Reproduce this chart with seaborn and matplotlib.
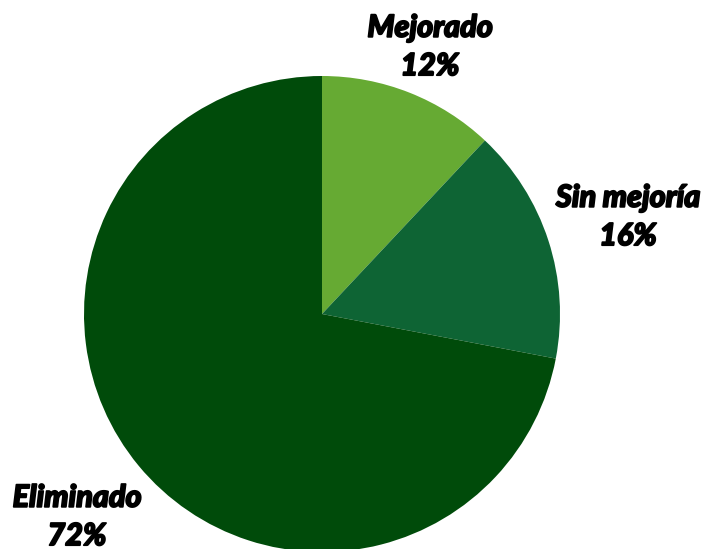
import matplotlib
matplotlib.use('Agg')
import matplotlib.pyplot as plt
import matplotlib.patheffects as pe
import seaborn as sns

sns.set_style('white')
plt.rcParams['font.family'] = ['Lato', 'DejaVu Sans']

# Datos
categorias = ['Mejorado', 'Sin mejoría', 'Eliminado']
porcentajes = [12, 16, 72]
colores = ['#66AA33', '#0E6434', '#004B0A']

fig = plt.figure(figsize=(7.07, 5.49), dpi=100)
ax = fig.add_axes([0, 0, 1, 1])

ax.pie(porcentajes, colors=colores, startangle=90, counterclock=False,
       center=(322, 235), radius=238, frame=True,
       wedgeprops={'linewidth': 0})

ax.set_xlim(0, 707)
ax.set_ylim(0, 549)
ax.set_aspect('equal')
ax.axis('off')

# Etiquetas (trazo extra para simular un peso más grueso)
posiciones = [(430, 502), (628, 332), (77, 32)]
for cat, pct, (x, y) in zip(categorias, porcentajes, posiciones):
    ax.text(x, y, f'{cat}\n{pct}%', ha='center', va='center',
            fontsize=22, fontweight='black', fontstyle='italic',
            linespacing=1.45, color='black',
            path_effects=[pe.Stroke(linewidth=1.3, foreground='black'),
                          pe.Normal()])

fig.savefig('out.png', dpi=100, facecolor='white')
